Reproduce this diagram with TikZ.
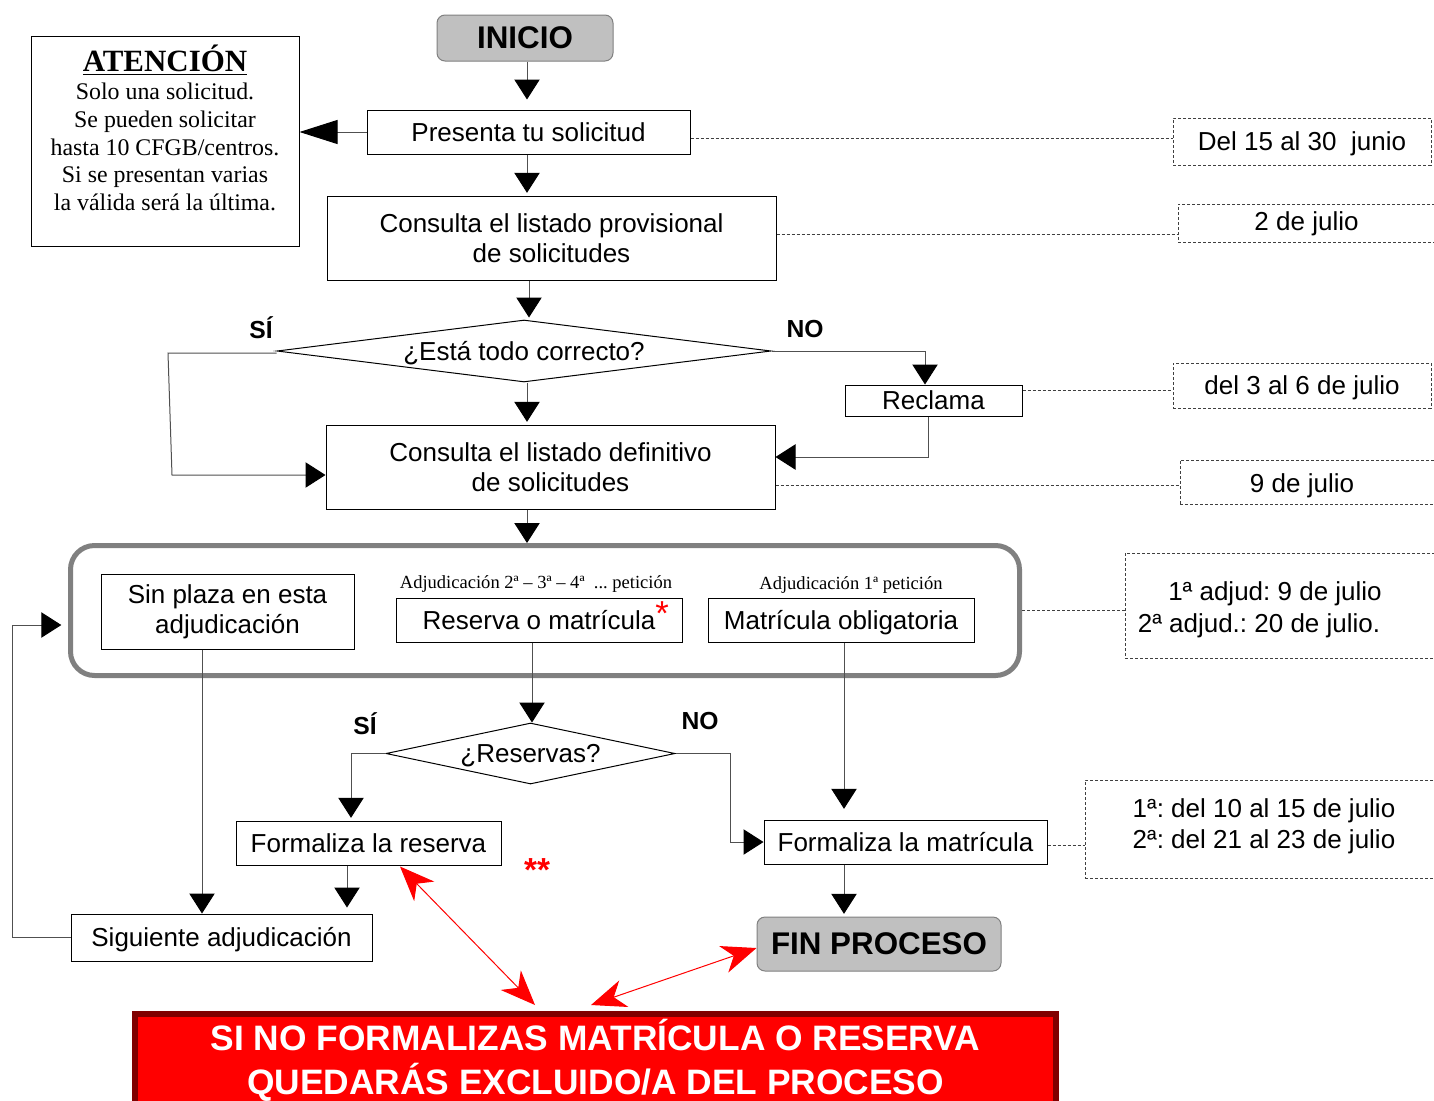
\documentclass[tikz,border=0pt]{standalone}
\usepackage{fontspec}
\setmainfont{Liberation Sans}
\newfontfamily\timesf{Liberation Serif}
\usetikzlibrary{arrows.meta,shapes.geometric,calc}
\definecolor{boxgray}{HTML}{C0C0C0}
\definecolor{lineg}{HTML}{505050}
\definecolor{grpgray}{HTML}{808080}
\definecolor{darkred}{HTML}{800000}
\definecolor{dashg}{HTML}{404040}
\newcommand\msz{\fontsize{19.5}{22.5}\selectfont}
\begin{document}
\frenchspacing
\begin{tikzpicture}[x=0.75pt,y=-0.75pt,
  box/.style={draw=black,line width=0.75pt,inner sep=0pt,align=center,font=\msz},
  sl/.style={text height=14pt,text depth=0pt},
  datebox/.style={draw=dashg,line width=0.75pt,dash pattern=on 2.25pt off 1.5pt,inner sep=0pt,align=center,font=\msz},
  dline/.style={draw=dashg,line width=0.75pt,dash pattern=on 2.25pt off 1.5pt},
  diam/.style={draw=black,line width=0.75pt,shape=diamond,inner sep=0pt,font=\msz},
  term/.style={draw=grpgray,fill=boxgray,rounded corners=6pt,line width=0.75pt,inner sep=0pt,font=\fontsize{23.5}{26}\selectfont\bfseries},
  conn/.style={draw=lineg,line width=0.75pt},
  arr/.style={conn,-{Triangle[length=15pt,width=19pt,color=black]}},
  bigarr/.style={conn,-{Triangle[length=28.5pt,width=18pt,color=black]}},
  redarr/.style={draw=red,line width=0.75pt,{Stealth[length=26pt,width=21pt,inset=8pt]}-{Stealth[length=26pt,width=21pt,inset=8pt]}},
  yn/.style={font=\fontsize{18.5}{20}\selectfont\bfseries,inner sep=0pt},
  txt/.style={font=\msz,inner sep=0pt,align=center},
  small/.style={font=\timesf\fontsize{13.9}{16}\selectfont,inner sep=0pt}
]
\useasboundingbox (0,0) rectangle (1434,1100);

% ---------- nodes ----------
\node[term,minimum width=132pt,minimum height=34.5pt] (inicio) at (525,38) {INICIO};
\node[draw=black,line width=0.75pt,minimum width=201pt,minimum height=157.5pt,inner sep=0pt] (aten) at (165,141) {};
\node[anchor=north,align=center,inner sep=0pt,font=\timesf\fontsize{17.9}{20.8}\selectfont] (atxt) at (165,45)
  {{\fontsize{23.2}{20.8}\selectfont\bfseries\underline{ATENCIÓN}}\\Solo una solicitud.\\Se pueden solicitar\\hasta 10 CFGB/centros.\\Si se presentan varias\\la válida será la última.};
\node[box,sl,minimum width=242.25pt,minimum height=33pt] (pres) at (528.5,132) {Presenta tu solicitud};
\node[box,minimum width=336.75pt,minimum height=63pt] (prov) at (551.5,238) {Consulta el listado provisional\\de solicitudes};
\node[diam,sl,minimum width=370.5pt,minimum height=46.5pt,aspect=8] (dia1) at (524,351) {¿Está todo correcto?};
\node[box,sl,minimum width=132.75pt,minimum height=23.25pt] (recl) at (933.5,400.5) {Reclama};
\node[box,minimum width=336.75pt,minimum height=63pt] (defi) at (550.5,467) {Consulta el listado definitivo\\de solicitudes};

\node[draw=grpgray,line width=3.75pt,rounded corners=18pt,minimum width=711.75pt,minimum height=97.5pt,inner sep=0pt] (grp) at (545,610.5) {};
\node[box,minimum width=189.75pt,minimum height=56.25pt] (sinp) at (227.5,611.5) {Sin plaza en esta\\adjudicación};
\node[small] (lab2) at (536,584) {Adjudicación 2ª – 3ª – 4ª\ \ ... petición};
\node[box,sl,minimum width=214.5pt,minimum height=33pt] (resm) at (539,620) {Reserva o matrícula\rlap{\raisebox{3pt}{\fontsize{26}{26}\selectfont\textcolor{red}{*}}}};
\node[small] (lab1) at (851,585) {Adjudicación 1ª petición};
\node[box,sl,minimum width=199.5pt,minimum height=33pt] (mato) at (841,620) {Matrícula obligatoria};

\node[diam,sl,minimum width=216.75pt,minimum height=45.75pt,aspect=4.7] (dia2) at (530.5,753.5) {¿Reservas?};
\node[box,sl,minimum width=198.75pt,minimum height=33pt] (fres) at (368.5,843) {Formaliza la reserva};
\node[box,sl,minimum width=225.75pt,minimum height=35.25pt] (sigu) at (221.5,937.5) {Siguiente adjudicación};
\node[box,sl,minimum width=212.25pt,minimum height=33pt] (fmat) at (905.5,842) {Formaliza la matrícula};
\node[term,minimum width=183pt,minimum height=40.5pt] (fin) at (879,944) {FIN PROCESO};
\node[text=red,font=\fontsize{25}{25}\selectfont\bfseries,inner sep=0pt,anchor=base] (stars) at (537,881) {**};

\node[draw=darkred,line width=4.5pt,fill=red,minimum width=690.75pt,minimum height=69pt,inner sep=0pt,
      text=white,align=center,font=\fontsize{26.5}{33}\selectfont\bfseries] (ban) at (595.5,1060)
  {SI NO FORMALIZAS MATRÍCULA O RESERVA\\QUEDARÁS EXCLUIDO/A DEL PROCESO};

\node[yn] (si1) at (261,328) {SÍ};
\node[yn] (no1) at (805,329) {NO};
\node[yn] (si2) at (365,724) {SÍ};
\node[yn] (no2) at (700,721) {NO};

% ---------- date boxes ----------
\node[datebox,sl,minimum width=193.5pt,minimum height=35.25pt] (d1) at (1302,141.5) {Del 15 al 30\ \ junio};
\node[datebox,minimum width=196.5pt,minimum height=28.5pt] (d2) at (1309,223) {};
\node[txt,sl] (t2) at (1306.5,221) {2 de julio};
\node[datebox,sl,minimum width=193.5pt,minimum height=33.75pt] (d3) at (1302,385.5) {del 3 al 6 de julio};
\node[datebox,minimum width=195pt,minimum height=33pt] (d4) at (1310,482) {};
\node[txt,sl] (t4) at (1302,483) {9 de julio};
\node[datebox,minimum width=240pt,minimum height=78.75pt] (d5) at (1285,605.5) {};
\node[txt,sl] (t5a) at (1275,591) {1ª adjud: 9 de julio};
\node[txt,sl] (t5b) at (1259,623) {2ª adjud.: 20 de julio.};
\node[datebox,minimum width=270pt,minimum height=73.5pt] (d6) at (1265,829) {};
\node[txt,font=\fontsize{19.5}{23.25}\selectfont] (t6) at (1264,826.5) {1ª: del 10 al 15 de julio\\2ª: del 21 al 23 de julio};

% ---------- helper coordinates ----------
\coordinate (sp) at (527,0);
\coordinate (sp2) at (529,0);
\coordinate (s1) at (168,353);
\coordinate (s2) at (172,475);
\coordinate (n1) at (925,351);
\coordinate (n2) at (928,457);
\coordinate (xs) at (202,0);
\coordinate (xr) at (532,0);
\coordinate (xm) at (844,0);
\coordinate (y1) at (351,0);
\coordinate (y2) at (730,0);
\coordinate (xf) at (347,0);
\coordinate (l1) at (12,625);

% ---------- connectors ----------
\draw[arr,shorten >=7.5pt] (inicio.south -| sp) -- (pres.north -| sp);
\draw[bigarr] (pres.west) -- (pres.west -| aten.east);
\draw[arr,shorten >=2pt] (pres.south -| sp) -- (prov.north -| sp);
\draw[arr,shorten >=1.5pt] (prov.south -| sp2) -- (dia1.north -| sp2);
\draw[arr,shorten >=2pt] (dia1.south -| sp) -- (defi.north -| sp);
\draw[arr] (dia1.west |- s1) -- (s1) -- (s2) -- (s2 -| defi.west);
\draw[arr] (dia1.east) -- (n1) -- (n1 |- recl.north);
\draw[arr] (n2 |- recl.south) -- (n2) -- (n2 -| defi.east);
\draw[arr] (defi.south -| sp) -- (grp.north -| sp);
\draw[arr] (sinp.south -| xs) -- (sigu.north -| xs);
\draw[arr] (resm.south -| xr) -- (dia2.north -| xr);
\draw[arr,shorten >=8pt] (mato.south -| xm) -- (fmat.north -| xm);
\draw[arr,shorten >=2pt] (dia2.west) -| (y1 |- fres.north);
\draw[arr] (dia2.east) -| (y2 |- fmat.west) -- (fmat.west);
\draw[arr,shorten >=4.5pt] (fres.south -| xf) -- (sigu.north -| xf);
\draw[arr,shorten >=2pt] (fmat.south -| xm) -- (fin.north -| xm);
\draw[arr,shorten >=5pt] (sigu.west) -| (l1) -- (l1 -| grp.west);

% ---------- dashed leaders ----------
\draw[dline] ($(pres.east)+(0,6)$) -- ($(pres.east -| d1.west)+(0,6)$);
\draw[dline] ($(prov.east)+(0,-4)$) -- ($(prov.east -| d2.west)+(0,-4)$);
\draw[dline] ($(recl.east)+(0,-10.5)$) -- ($(recl.east -| d3.west)+(0,-10.5)$);
\draw[dline] ($(defi.east)+(0,18)$) -- ($(defi.east -| d4.west)+(0,18)$);
\draw[dline] (grp.east) -- (grp.east -| d5.west);
\draw[dline] ($(fmat.east)+(0,3)$) -- ($(fmat.east -| d6.west)+(0,3)$);

% ---------- red arrows ----------
\draw[redarr] ($(fres.south)+(31.5,1)$) -- ($(ban.north)+(-60.5,-6)$);
\draw[redarr] ($(fin.west)+(0,4)$) -- ($(ban.north)+(-4.5,-6)$);
\end{tikzpicture}
\end{document}
